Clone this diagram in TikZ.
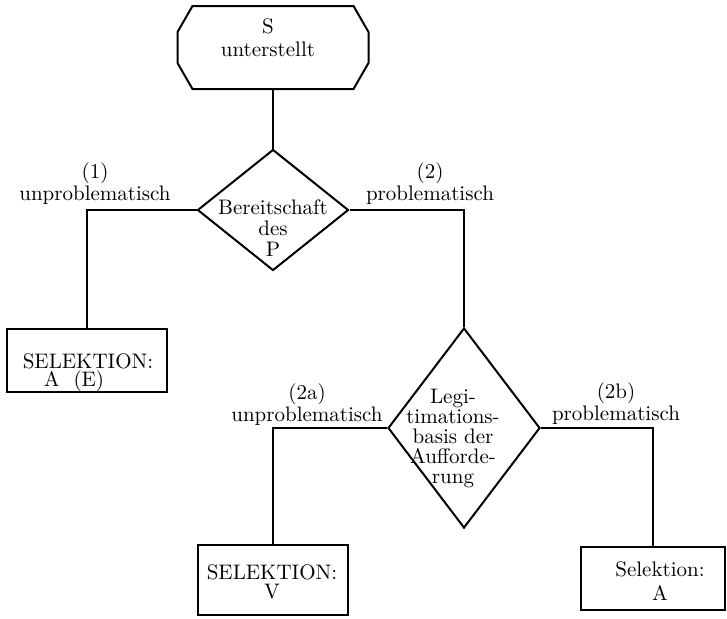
\documentclass[tikz,border=0pt]{standalone}
\usepackage{amsmath}
\usepackage{tikz}
\usetikzlibrary{arrows,shapes.geometric}
\tikzset{anfang/.style={rectangle,inner sep=0pt,minimum width=94.5pt,minimum height=40.5pt},
         raute/.style={diamond,draw,inner sep=0pt},
         kasten/.style={rectangle,draw,inner sep=0pt},
         zeile/.style={align=center,inner sep=0pt,font=\fontsize{10.5}{#1}\selectfont},
         zeile/.default=10.5pt,
         winkel/.style={to path={-| (\tikztotarget)}}}

\begin{document}
\begin{tikzpicture}[x=0.5pt,y=-0.5pt,line width=1pt]
    \useasboundingbox (0,0) rectangle (727,618);
    \path node [anfang] (start) at (273,47.5) {}
          node [zeile=11.5pt] (start-t) at (268,38) {S\\unterstellt}
          node [raute, minimum width=75.5pt, minimum height=60.5pt] (bereit) at (273,210) {}
          node [zeile] (bereit-t) at (273,228) {Bereitschaft\\des\\P}
          node [zeile=11pt] (m1) at (95,184) {(1)\\unproblematisch}
          node [zeile=11pt] (m2) at (430,184) {(2)\\problematisch}
          node [kasten, minimum width=80pt, minimum height=31.5pt] (sel1) at (87,360.5) {}
          node [zeile=9pt, align=left] (sel1-t) at (88,373) {SELEKTION:\\\hspace*{1em}A~~(E)}
          node [raute, minimum width=76pt, minimum height=100pt] (legi) at (464,428) {}
          node [zeile=10pt] (legi-t) at (453,438) {Legi-\\timations-\\basis der\\Aufforde-\\rung}
          node [zeile=11pt] (m2a) at (307,405) {(2a)\\unproblematisch}
          node [zeile=11pt] (m2b) at (616,404) {(2b)\\problematisch}
          node [kasten, minimum width=75pt, minimum height=35pt] (selv) at (273,580) {}
          node [zeile=9.5pt] (selv-t) at (272,582) {SELEKTION:\\V}
          node [kasten, minimum width=72pt, minimum height=31.5pt] (sela) at (653,578.5) {}
          node [zeile=12pt] (sela-t) at (660,581) {Selektion:\\A}

         (start) edge (bereit)
         (bereit.west) edge [winkel] (sel1.north)
         (bereit.east) edge [winkel] (legi.north)
         (legi.west) edge [winkel] (selv.north)
         (legi.east) edge [winkel] (sela.north);

    % abgeschraegte Ecken des Startfeldes
    \draw ([xshift=7.5pt]start.north west) -- ([xshift=-7.5pt]start.north east)
          -- ([yshift=-13pt]start.north east) -- ([yshift=13pt]start.south east)
          -- ([xshift=-7.5pt]start.south east) -- ([xshift=7.5pt]start.south west)
          -- ([yshift=13pt]start.south west) -- ([yshift=-13pt]start.north west) -- cycle;
\end{tikzpicture}
\end{document}
